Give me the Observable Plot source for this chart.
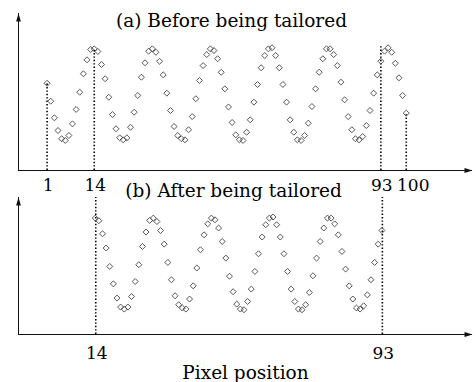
<!DOCTYPE html>
<html><head><meta charset="utf-8">
<script src="https://cdn.jsdelivr.net/npm/d3@7"></script>
<script src="https://cdn.jsdelivr.net/npm/@observablehq/plot@0.6"></script>
<style>
html,body{margin:0;padding:0;background:#fff;}
#chart{position:relative;width:476px;height:382px;overflow:hidden;}
#chart svg{position:absolute;left:0;overflow:visible;background:transparent;}
</style></head><body><div id="chart"></div>
<script>
// Intensity of each pixel (1..100)
const intensity = [
  0.563,0.447,0.340,0.258,0.205,0.194,0.226,0.301,0.394,0.505,
  0.624,0.714,0.781,0.785,0.768,0.684,0.592,0.473,0.361,0.269,
  0.211,0.198,0.211,0.279,0.376,0.484,0.602,0.695,0.770,0.785,
  0.763,0.705,0.617,0.499,0.387,0.284,0.226,0.205,0.198,0.263,
  0.348,0.463,0.581,0.677,0.748,0.785,0.774,0.721,0.634,0.527,
  0.410,0.310,0.230,0.198,0.194,0.247,0.327,0.441,0.555,0.663,
  0.742,0.785,0.792,0.742,0.663,0.555,0.441,0.327,0.247,0.198,
  0.194,0.226,0.305,0.413,0.527,0.634,0.721,0.785,0.785,0.748,
  0.677,0.570,0.456,0.348,0.263,0.205,0.198,0.219,0.290,0.387,
  0.499,0.617,0.705,0.770,0.792,0.763,0.692,0.598,0.484,0.370
];
const titleA = "(a) Before being tailored";
const titleB = "(b) After being tailored";
const xLabel = "Pixel position";
const guidePixelsA = [1, 14, 93, 100];
const guideTopsA = [0.563, 0.774, 0.806, 0.368];
const ticksA = [1, 14, 93];
const ticksAShifted = [100];
const cutStart = 14, cutEnd = 93;
const ticksB = [14, 93];

const before = intensity.map((v, i) => ({pixel: i + 1, value: v}));
const after = before.filter(d => d.pixel >= cutStart && d.pixel <= cutEnd);
const guidesA = guidePixelsA.map((p, i) => ({pixel: p, top: guideTopsA[i]}));

const font = "'DejaVu Serif', serif";
const xDomain = [-6.88, 118.26];
const yDomainA = [0, 1.013];
const yDomainB = [0.034, 0.918];
const axisColor = "#111";

function axes(yd) {
  return [
    Plot.ruleY([yd[0]], {stroke: axisColor, strokeWidth: 1}),
    Plot.ruleX([xDomain[0]], {stroke: axisColor, strokeWidth: 1}),
    Plot.vector([{x: xDomain[1], y: yd[0]}], {x: "x", y: "y", rotate: 90, length: 8, r: 2.4, shape: "spike", anchor: "end", fill: axisColor, stroke: "none"}),
    Plot.vector([{x: xDomain[0], y: yd[1]}], {x: "x", y: "y", rotate: 0, length: 8, r: 2.4, shape: "spike", anchor: "end", fill: axisColor, stroke: "none"})
  ];
}
const dotStyle = {symbol: "diamond2", r: 2.7, stroke: "#444", strokeWidth: 0.9, fill: "none"};
const guideStyle = {stroke: "#000", strokeWidth: 1.6, strokeDasharray: "1.4 2"};

const plotA = Plot.plot({
  width: 476, height: 200,
  marginLeft: 18, marginRight: 4, marginTop: 13, marginBottom: 30,
  x: {domain: xDomain, axis: null},
  y: {domain: yDomainA, axis: null},
  style: {fontFamily: font, background: "transparent", overflow: "visible", color: "#000"},
  marks: [
    ...axes(yDomainA),
    Plot.ruleX(guidesA, {x: "pixel", y1: yDomainA[0], y2: "top", ...guideStyle}),
    Plot.dot(before, {x: "pixel", y: "value", ...dotStyle}),
    Plot.text(ticksA, {x: d => d, y: yDomainA[0], dy: 20, text: d => String(d), lineAnchor: "bottom", fontSize: 17, dx: 1}),
    Plot.text(ticksAShifted, {x: d => d, y: yDomainA[0], dy: 20, text: d => String(d), lineAnchor: "bottom", fontSize: 17, dx: 7}),
    Plot.text([titleA], {frameAnchor: "top", dx: -14, dy: 13.5, lineAnchor: "bottom", fontSize: 18.5, text: d => d})
  ]
});

const plotB = Plot.plot({
  width: 476, height: 204,
  marginLeft: 18, marginRight: 4, marginTop: 19, marginBottom: 48,
  x: {domain: xDomain, axis: null},
  y: {domain: yDomainB, axis: null},
  style: {fontFamily: font, background: "transparent", overflow: "visible", color: "#000"},
  marks: [
    ...axes(yDomainB),
    Plot.ruleX(ticksB, {x: d => d, y1: yDomainB[0], y2: yDomainB[1], dx: 1.5, ...guideStyle}),
    Plot.dot(after, {x: "pixel", y: "value", dx: 1, ...dotStyle}),
    Plot.text(ticksB, {x: d => d, y: yDomainB[0], dy: 24, dx: 2.5, text: d => String(d), lineAnchor: "bottom", fontSize: 17}),
    Plot.text([titleB], {frameAnchor: "top", dx: -12, dy: -1, lineAnchor: "bottom", fontSize: 18.5, text: d => d}),
    Plot.text([xLabel], {frameAnchor: "bottom", dy: 44, lineAnchor: "bottom", fontSize: 18.5, text: d => d})
  ]
});

const chart = document.getElementById("chart");
plotA.style.top = "0px";
plotB.style.top = "178px";
chart.appendChild(plotA);
chart.appendChild(plotB);
</script></body></html>
